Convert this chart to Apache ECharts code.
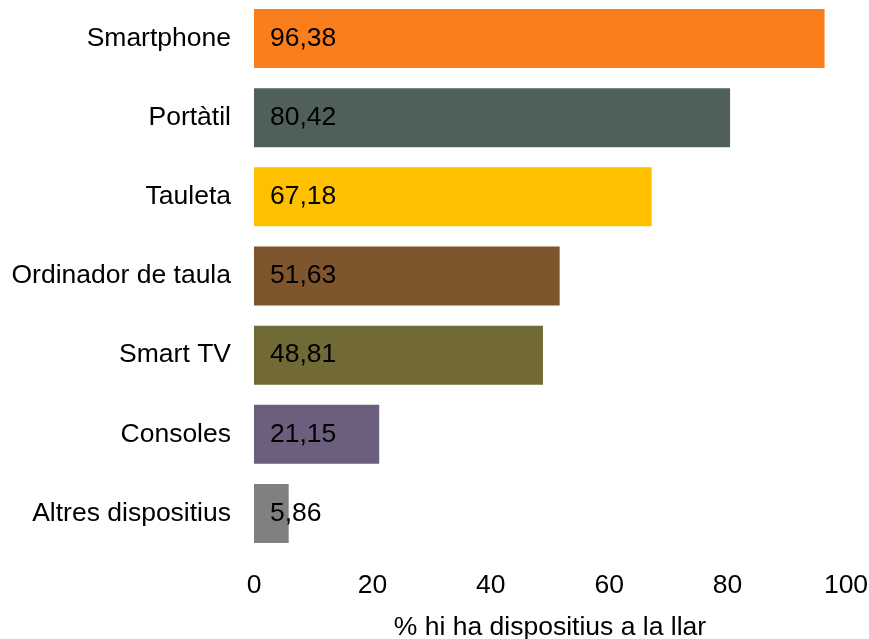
<!DOCTYPE html>
<html>
<head>
<meta charset="utf-8">
<script src="https://cdn.jsdelivr.net/npm/echarts@6/dist/echarts.min.js"></script>
<style>
  html, body { margin: 0; padding: 0; background: #fff; }
  #chart { width: 869px; height: 639px; }
</style>
</head>
<body>
<div id="chart"></div>
<script>
// dades
const categories = ['Smartphone', 'Portàtil', 'Tauleta', 'Ordinador de taula', 'Smart TV', 'Consoles', 'Altres dispositius']
const values = [96.38, 80.42, 67.18, 51.63, 48.81, 21.15, 5.86]
const barColors = ['#fb7e1d', '#4f5f5a', '#ffc000', '#7f552d', '#726a36', '#6b5f7d', '#808080']
const xTicks = [0, 20, 40, 60, 80, 100]

const font = 'Liberation Sans, Arial, sans-serif'
const fs = 26.5
const chart = echarts.init(document.getElementById('chart'))

chart.setOption({
  animation: false,
  grid: {
    left: 254,
    right: 23,
    top: -1,
    bottom: 86,
    containLabel: false,
    outerBoundsMode: 'none'
  },
  xAxis: {
    type: 'value',
    min: xTicks[0],
    max: xTicks[xTicks.length - 1],
    interval: 20,
    name: '% hi ha dispositius a la llar',
    nameLocation: 'middle',
    nameGap: 61,
    nameTextStyle: { fontFamily: font, fontSize: fs, color: '#000' },
    axisLine: { show: false },
    axisTick: { show: false },
    splitLine: { show: false },
    axisLabel: { fontFamily: font, fontSize: fs, color: '#000', margin: 19 }
  },
  yAxis: {
    type: 'category',
    inverse: true,
    data: categories,
    axisLine: { show: false },
    axisTick: { show: false },
    axisLabel: { fontFamily: font, fontSize: fs, color: '#000', margin: 23 }
  },
  series: [{
    type: 'bar',
    barWidth: 59,
    data: values.map((v, i) => ({ value: v, itemStyle: { color: barColors[i] } })),
    label: {
      show: true,
      position: 'insideLeft',
      distance: 16,
      fontFamily: font,
      fontSize: fs,
      color: '#000',
      formatter: (p) => p.value.toFixed(2).replace('.', ',')
    }
  }]
})
</script>
</body>
</html>
